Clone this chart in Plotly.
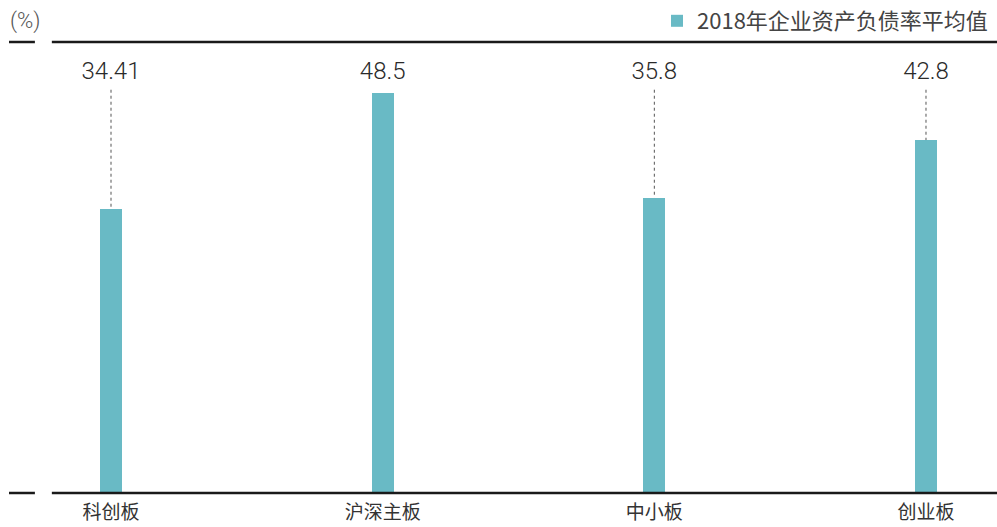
import plotly.graph_objects as go

# Data
categories = ["科创板", "沪深主板", "中小板", "创业板"]
values = [34.41, 48.5, 35.8, 42.8]
value_labels = ["34.41", "48.5", "35.8", "42.8"]
series_name = "2018年企业资产负债率平均值"

bar_color = "#69BAC5"
ink = "#1a1a1a"
text_color = "#333333"
cjk_font = "Noto Sans CJK SC"

x_pos = list(range(len(categories)))
y_max = 59.78
label_level = 50.9      # height at which value labels sit
leader_top = 48.9       # top end of the dotted leaders

fig = go.Figure()

fig.add_trace(go.Bar(
    x=x_pos, y=values, name=series_name,
    marker=dict(color=bar_color, line=dict(width=0)),
    width=0.081, showlegend=True,
))

# dotted leaders from label down to shorter bars
for xi, v in zip(x_pos, values):
    if v < leader_top - 1:
        fig.add_trace(go.Scatter(
            x=[xi, xi], y=[leader_top, v], mode="lines",
            line=dict(color="#555555", width=1, dash="dot"),
            showlegend=False, hoverinfo="skip",
        ))

fig.add_trace(go.Scatter(
    x=x_pos, y=[label_level] * len(x_pos), mode="text",
    text=value_labels, textposition="middle center",
    textfont=dict(family="Roboto", size=24, color="#2a2a2a", weight=300),
    showlegend=False, hoverinfo="skip",
))

# frame rules at top and bottom
for yy in (0.0, 0.9148):
    fig.add_shape(type="line", xref="paper", yref="paper",
                  x0=0.009, x1=0.035, y0=yy, y1=yy,
                  line=dict(color=ink, width=2.5))
    fig.add_shape(type="line", xref="paper", yref="paper",
                  x0=0.052, x1=1.0, y0=yy, y1=yy,
                  line=dict(color=ink, width=2.5))

fig.add_annotation(text="(%)", xref="paper", yref="paper",
                   x=0.008, y=0.957, xanchor="left", yanchor="middle",
                   showarrow=False,
                   font=dict(family="Roboto", size=22, color="#555555",
                             weight=300))

fig.update_layout(
    width=997, height=527,
    margin=dict(l=0, r=0, t=0, b=34, autoexpand=False),
    paper_bgcolor="white", plot_bgcolor="white",
    bargap=0,
    xaxis=dict(range=[-0.4086, 3.2614], tickmode="array", tickvals=x_pos,
               ticktext=categories, showgrid=False, zeroline=False,
               showline=False, ticks="", ticklabelstandoff=6,
               tickfont=dict(family=cjk_font, size=19, color=text_color)),
    yaxis=dict(range=[0, y_max], visible=False, showgrid=False,
               zeroline=False),
    legend=dict(x=0.996, y=1.0, xanchor="right", yanchor="top",
                bgcolor="rgba(0,0,0,0)", borderwidth=0,
                font=dict(family=cjk_font, size=22, color="#444444"),
                itemsizing="constant", itemwidth=30),
)

fig.write_html("out.html")
